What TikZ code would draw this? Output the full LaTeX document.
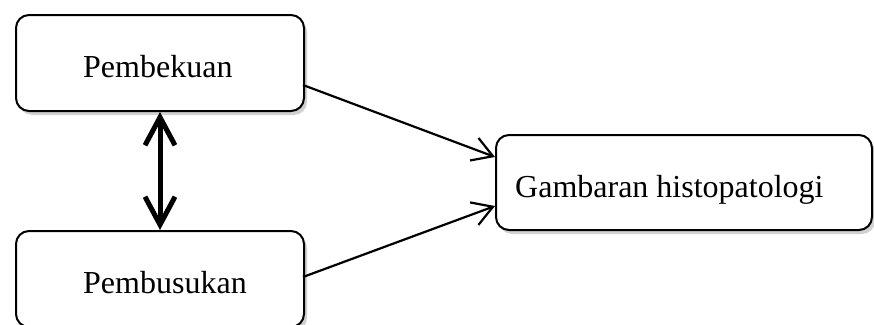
\documentclass[tikz,border=0pt]{standalone}
\usepackage{fontspec}
\setmainfont{Liberation Serif}
\usetikzlibrary{arrows.meta,shadows}
\begin{document}
\begin{tikzpicture}[x=1pt,y=-1pt,
  box/.style={draw=black,line width=2pt,rounded corners=13pt,fill=white,
    drop shadow={shadow xshift=3pt,shadow yshift=-4pt,opacity=0.3,fill=black!60}},
  lbl/.style={font=\fontsize{32}{38}\selectfont,inner sep=0pt,anchor=base west},
  thin/.style={line width=2.2pt,-{Straight Barb[length=20pt,width=24pt,line width=2.2pt]}},
  thick/.style={line width=5pt,{Straight Barb[length=28pt,width=30pt,line width=5pt]}-{Straight Barb[length=28pt,width=30pt,line width=5pt]}}]
\useasboundingbox (0,0) rectangle (874,324);
\node[box,minimum width=288pt,minimum height=96pt,anchor=north west] (b1) at (15,14) {};
\node[box,minimum width=288pt,minimum height=96pt,anchor=north west] (b2) at (15,230) {};
\node[box,minimum width=376pt,minimum height=95pt,anchor=north west] (b3) at (495,134) {};
\node[lbl] (t1) at (83,77) {Pembekuan};
\node[lbl] (t2) at (83,293) {Pembusukan};
\node[lbl] (t3) at (515,197) {Gambaran histopatologi};
\coordinate (s1) at (303,85);
\coordinate (s2) at (303,277);
\coordinate (e1) at (495,157);
\coordinate (e2) at (495,206);
\draw[thin] (s1) -- (e1);
\draw[thin] (s2) -- (e2);
\draw[thick] (b1.south) -- (b2.north);
\end{tikzpicture}
\end{document}
